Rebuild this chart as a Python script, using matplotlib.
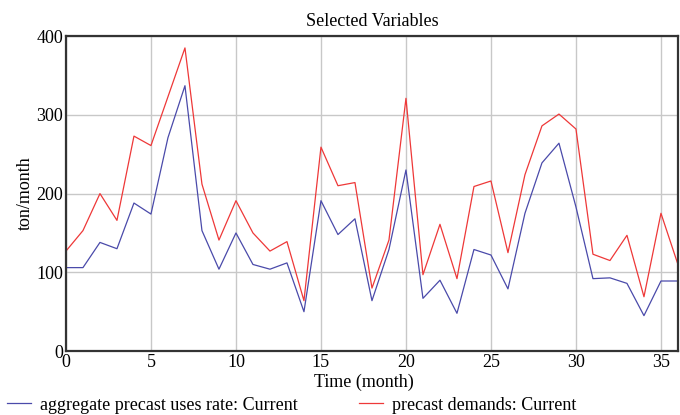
import numpy as np
import matplotlib.pyplot as plt

# monthly values (ton/month)
months = np.arange(0, 37)
uses_rate = [106, 106, 138, 130, 188, 174, 271, 337, 153, 104,
             150, 110, 104, 112, 50, 191, 148, 168, 64, 129,
             230, 67, 90, 48, 129, 122, 79, 175, 239, 264,
             183, 92, 93, 86, 45, 89, 89]
demands = [127, 153, 200, 166, 273, 261, 323, 385, 212, 141,
           191, 150, 127, 139, 64, 259, 210, 214, 80, 141,
           321, 97, 161, 92, 209, 216, 125, 224, 286, 301,
           282, 123, 115, 147, 69, 175, 110]

plt.rcParams['font.family'] = ['Liberation Serif', 'DejaVu Serif']

fig = plt.figure(figsize=(6.8, 4.15), dpi=100)
ax = fig.add_axes([0.097, 0.154, 0.9, 0.759])

l1, = ax.plot(months, uses_rate, color='#4a4aaa', lw=0.9,
              label='aggregate precast uses rate: Current')
l2, = ax.plot(months, demands, color='#ee3838', lw=0.9,
              label='precast demands: Current')

ax.set_xlim(0, 36)
ax.set_ylim(0, 400)
ax.set_xticks(range(0, 36, 5))
ax.set_yticks(range(0, 401, 100))
ax.grid(True, color='#c8c8c8', lw=1)
ax.tick_params(length=0, labelsize=13, pad=2)
for s in ax.spines.values():
    s.set_color('#333333')
    s.set_linewidth(1.6)

ax.set_title('Selected Variables', fontsize=13, pad=7)
ax.set_xlabel('Time (month)', fontsize=13, labelpad=0)
ax.xaxis.set_label_coords(0.487, -0.072)
ax.set_ylabel('ton/month', fontsize=13, labelpad=2)

fig.legend(handles=[l1, l2], loc='lower left', bbox_to_anchor=(-0.013, -0.036),
           ncol=2, frameon=False, fontsize=13, handlelength=1.3,
           handletextpad=0.5, columnspacing=3.4)

fig.savefig('out.png', dpi=100)
